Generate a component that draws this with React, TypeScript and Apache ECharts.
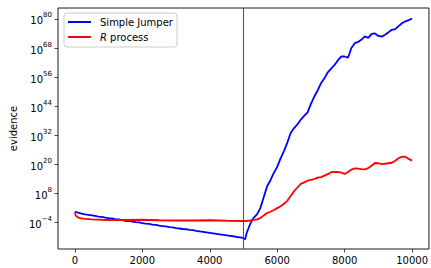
import React, { useEffect, useRef } from "react";
import * as echarts from "echarts";

// x positions (iterations) and log10(evidence)
const blueX = [0,100,200,300,400,500,600,700,800,900,1000,1100,1200,1300,1400,1500,1600,1700,1800,1900,2000,2100,2200,2300,2400,2500,2600,2700,2800,2900,3000,3100,3200,3300,3400,3500,3600,3700,3800,3900,4000,4100,4200,4300,4400,4500,4600,4700,4800,4900,5000,5050,5100,5150,5200,5300,5400,5500,5600,5700,5800,5900,6000,6100,6200,6300,6400,6500,6600,6700,6800,6900,7000,7100,7200,7300,7400,7500,7600,7700,7800,7900,8000,8100,8200,8300,8400,8500,8600,8700,8800,8900,9000,9100,9200,9300,9400,9500,9600,9700,9800,9900,10000];
const blueExp = [0.6,0.1,-0.3,-0.6,-0.8,-1.0,-1.2,-1.5,-1.6,-1.9,-2.1,-2.2,-2.5,-2.6,-2.9,-3.3,-3.3,-3.6,-3.8,-3.9,-4.2,-4.4,-4.5,-4.8,-4.9,-5.2,-5.4,-5.5,-5.8,-5.9,-6.2,-6.4,-6.6,-6.7,-7.0,-7.1,-7.4,-7.6,-7.8,-8.0,-8.2,-8.4,-8.6,-8.8,-9.0,-9.2,-9.4,-9.6,-9.9,-10.1,-10.4,-10.8,-8.0,-6.3,-4.5,-2.0,-0.6,2.0,6.5,11.0,13.5,16.5,19.0,22.5,25.5,29.0,33.0,35.0,36.5,38.5,40.0,41.5,45.0,48.0,50.5,53.5,55.5,58.0,59.5,61.0,63.0,64.5,64.5,64.0,68.0,70.0,70.5,71.5,72.8,72.2,73.8,74.0,73.0,72.7,73.5,74.5,75.5,75.8,77.0,78.2,79.0,79.5,80.2];

const redX = [0,30,100,200,300,500,800,1000,1500,2000,2500,3000,3500,4000,4500,5000,5100,5200,5300,5400,5500,5600,5700,5800,5900,6000,6100,6200,6300,6400,6500,6600,6700,6800,6900,7000,7100,7200,7300,7400,7500,7600,7700,7800,7900,8000,8100,8200,8300,8400,8500,8600,8700,8800,8900,9000,9100,9200,9300,9400,9500,9600,9700,9800,9900,10000];
const redExp = [0.3,-1.2,-1.9,-2.2,-2.4,-2.6,-2.8,-2.9,-2.9,-2.8,-3.0,-3.1,-3.1,-3.0,-3.2,-3.3,-3.3,-3.1,-2.8,-2.6,-2.1,-1.0,0.0,0.5,1.2,2.0,2.8,3.8,5.0,7.0,9.0,10.5,12.0,12.6,13.3,13.6,14.0,14.6,14.8,15.4,16.0,16.8,16.9,16.9,16.6,16.1,16.9,17.9,18.4,18.3,18.1,18.0,18.5,19.5,20.6,20.5,20.1,20.3,20.5,20.7,21.5,22.6,23.1,23.2,22.3,21.6];

const xTicks = [0, 2000, 4000, 6000, 8000, 10000];
const yTickExps = [-4, 8, 20, 32, 44, 56, 68, 80];
const seriesNames = ["Simple Jumper", "R process"];
const switchPoint = 5000;
const yMin = -14.85;
const yMax = 84.5;

const FONT = "DejaVu Sans";

function pairs(xs: number[], ys: number[]) {
  const n = Math.min(xs.length, ys.length);
  const out: number[][] = [];
  for (let i = 0; i < n; i++) out.push([xs[i], ys[i]]);
  return out;
}

export default function App() {
  const ref = useRef<HTMLDivElement>(null);
  useEffect(() => {
    if (!ref.current) return;
    const chart = echarts.init(ref.current, undefined, { renderer: "svg" });
    chart.setOption({
      animation: false,
      backgroundColor: "#ffffff",
      textStyle: { fontFamily: FONT },
      grid: {
        left: 58,
        top: 8,
        right: -1,
        bottom: 19,
        show: true,
        borderColor: "#1a1a1a",
        borderWidth: 1,
        backgroundColor: "transparent",
      },
      legend: {
        orient: "vertical",
        left: 64,
        top: 13,
        padding: [4, 4, 5, 4],
        itemWidth: 23,
        itemHeight: 2,
        itemGap: 5,
        icon: "rect",
        backgroundColor: "rgba(255,255,255,0.8)",
        borderColor: "#cccccc",
        borderWidth: 1,
        borderRadius: 3,
        data: seriesNames,
        formatter: (name: string) =>
          name === "R process" ? "{i|R}{n| process}" : "{n|" + name + "}",
        textStyle: {
          fontFamily: FONT,
          fontSize: 10,
          color: "#000",
          padding: [0, 0, 0, 4],
          rich: {
            i: { fontFamily: FONT, fontSize: 10, fontStyle: "italic", color: "#000", lineHeight: 12 },
            n: { fontFamily: FONT, fontSize: 10, color: "#000", lineHeight: 12 },
          },
        },
      },
      xAxis: {
        type: "value",
        min: -500,
        max: 10500,
        splitLine: { show: false },
        axisLine: { show: false, onZero: false },
        axisTick: {
          show: true,
          length: 3.5,
          lineStyle: { color: "#1a1a1a", width: 0.8 },
          customValues: xTicks,
        },
        axisLabel: {
          customValues: xTicks,
          formatter: (v: number) => String(v),
          fontFamily: FONT,
          fontSize: 10,
          color: "#000",
          margin: 6,
        },
      },
      yAxis: {
        type: "value",
        min: yMin,
        max: yMax,
        name: "evidence",
        nameLocation: "middle",
        nameGap: 39,
        nameTextStyle: { fontFamily: FONT, fontSize: 10, color: "#000" },
        splitLine: { show: false },
        axisLine: { show: false, onZero: false },
        axisTick: {
          show: true,
          length: 3.5,
          lineStyle: { color: "#1a1a1a", width: 0.8 },
          customValues: yTickExps,
        },
        axisLabel: {
          customValues: yTickExps,
          margin: 6,
          formatter: (v: number) => "{b|10}{s|" + String(v).replace("-", "\u2212") + "}",
          rich: {
            b: { fontFamily: FONT, fontSize: 10, color: "#000", lineHeight: 14, verticalAlign: "bottom" },
            s: { fontFamily: FONT, fontSize: 7, color: "#000", verticalAlign: "top", lineHeight: 9 },
          },
        },
      },
      series: [
        {
          name: seriesNames[0],
          type: "line",
          data: pairs(blueX, blueExp),
          showSymbol: false,
          symbol: "none",
          lineStyle: { color: "#0000ff", width: 1.8 },
          itemStyle: { color: "#0000ff" },
          z: 2,
        },
        {
          name: seriesNames[1],
          type: "line",
          data: pairs(redX, redExp),
          showSymbol: false,
          symbol: "none",
          lineStyle: { color: "#ff0000", width: 1.8 },
          itemStyle: { color: "#ff0000" },
          z: 3,
        },
        {
          name: "switch",
          type: "line",
          data: [
            [switchPoint, yMin],
            [switchPoint, yMax],
          ],
          showSymbol: false,
          symbol: "none",
          silent: true,
          lineStyle: { color: "#ff0000", width: 1 },
          itemStyle: { color: "#ff0000" },
          z: 4,
        },
      ],
    });
    return () => chart.dispose();
  }, []);
  return (
    <div
      ref={ref}
      style={{ position: "fixed", left: 0, top: 0, width: 431, height: 268 }}
    />
  );
}
